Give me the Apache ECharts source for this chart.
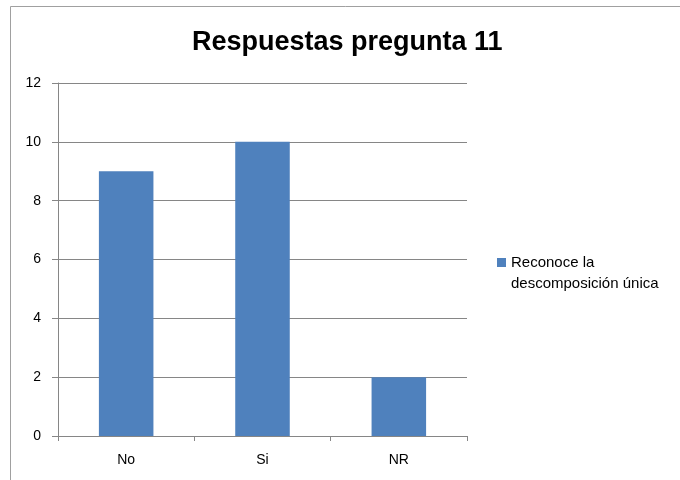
<!DOCTYPE html>
<html>
<head>
<meta charset="utf-8">
<script src="https://cdn.jsdelivr.net/npm/echarts@6/dist/echarts.min.js"></script>
<style>html,body{margin:0;padding:0;background:#fff}#c{width:680px;height:480px}</style>
</head>
<body>
<div id="c"></div>
<script>
const categories = ['No', 'Si', 'NR'];
const seriesName = 'Reconoce la descomposición única';
const values = [9, 10, 2];
const yTicks = [0, 2, 4, 6, 8, 10, 12];

const chart = echarts.init(document.getElementById('c'));
const gray = '#868686';
const font = '"Liberation Sans", Arial, sans-serif';
chart.setOption({
  animation: false,
  backgroundColor: '#fff',
  graphic: [{
    type: 'polyline',
    shape: { points: [[10.5, 480], [10.5, 6.5], [680, 6.5]] },
    style: { stroke: '#a0a0a0', lineWidth: 1, fill: null },
    silent: true
  }],
  title: {
    text: 'Respuestas pregunta 11',
    left: 192,
    top: 29,
    textStyle: { fontFamily: font, fontWeight: 'bold', fontSize: 27, color: '#000' },
    padding: 0
  },
  grid: { left: 58, right: 213, top: 83, bottom: 44, containLabel: false },
  legend: {
    orient: 'vertical',
    left: 497,
    top: 231,
    padding: 0,
    itemWidth: 9,
    itemHeight: 9,
    itemGap: 4,
    icon: 'rect',
    formatter: function () { return '\u00a0\nReconoce la\ndescomposición única'; },
    textStyle: { fontFamily: font, fontSize: 15, color: '#000', lineHeight: 21, padding: [0, 0, 0, 0] },
    data: [seriesName]
  },
  xAxis: {
    type: 'category',
    data: categories,
    axisLine: { lineStyle: { color: gray, width: 1 } },
    axisTick: { show: true, length: 5, inside: false, lineStyle: { color: gray } },
    axisLabel: { color: '#000', fontFamily: font, fontSize: 14, margin: 17 }
  },
  yAxis: {
    type: 'value',
    min: yTicks[0],
    max: yTicks[yTicks.length - 1],
    interval: 2,
    axisLine: { show: true, lineStyle: { color: gray, width: 1 } },
    axisTick: { show: true, length: 6, lineStyle: { color: gray } },
    axisLabel: { color: '#000', fontFamily: font, fontSize: 14, margin: 17 },
    splitLine: { show: true, lineStyle: { color: gray, width: 1 } }
  },
  series: [{
    name: seriesName,
    type: 'bar',
    data: values,
    barWidth: '40%',
    itemStyle: { color: '#4F81BD' }
  }]
});
</script>
</body>
</html>
